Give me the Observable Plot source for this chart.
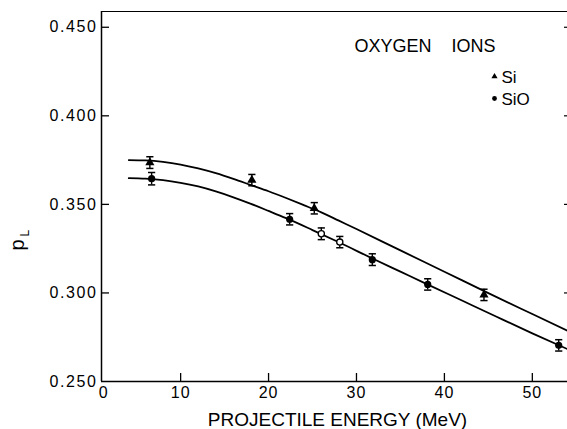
<!DOCTYPE html>
<html><head><meta charset="utf-8">
<script src="https://cdn.jsdelivr.net/npm/d3@7"></script>
<script src="https://cdn.jsdelivr.net/npm/@observablehq/plot@0.6"></script>
<style>
html,body{margin:0;padding:0;background:#fff;overflow:hidden}
#chart svg{display:block}
g[aria-label="y-axis tick label"] text{letter-spacing:1.6px}
g[aria-label="x-axis tick label"] text{letter-spacing:1px}
g[aria-label="x-title"] text{letter-spacing:2.3px}
g[aria-label="panel-title"] text{letter-spacing:0.6px}
g[aria-label="legend-text"] text{letter-spacing:0.8px}
</style></head><body><div id="chart"></div>
<script>
// axis setup
const xDomain = [1.0, 54.0];
const yDomain = [0.250, 0.4589];
const xTicks = [10, 20, 30, 40, 50];
const xZeroTick = [0];
const yTicks = [0.250, 0.300, 0.350, 0.400, 0.450];
const yInnerTicks = [0.300, 0.350, 0.400, 0.450];
const xTitle = "PROJECTILE ENERGY (MeV)";
const yTitle = "p";
const yTitleSub = "L";
const panelTitle = "OXYGEN\u00a0\u00a0\u00a0\u00a0IONS";
const legendLabels = ["Si", "SiO"];

// fitted curves
const siCurveX = [4.1, 6, 8, 10, 12, 14, 16, 18, 20, 22, 24, 26, 28, 30, 35, 40, 45, 50, 54];
const siCurveY = [0.3750, 0.3748, 0.3740, 0.3725, 0.3703, 0.3676, 0.3644, 0.3609, 0.3574, 0.3536, 0.3496, 0.3455, 0.3408, 0.3361, 0.3240, 0.3120, 0.2999, 0.2881, 0.2787];
const sioCurveX = [4.1, 6, 8, 10, 12, 14, 16, 18, 20, 22, 25, 28, 32, 35, 38, 42, 46, 50, 54];
const sioCurveY = [0.3648, 0.3645, 0.3637, 0.3622, 0.3601, 0.3573, 0.3540, 0.3503, 0.3463, 0.3422, 0.3355, 0.3286, 0.3190, 0.3120, 0.3050, 0.2957, 0.2864, 0.2772, 0.2683];

// measured points
const siX = [6.5, 18.1, 25.2, 44.5];
const siY = [0.3736, 0.3637, 0.3478, 0.2989];
const siErr = [0.0033, 0.0032, 0.0032, 0.0032];
const sioX = [6.7, 22.4, 31.8, 38.1, 53.0];
const sioY = [0.3645, 0.3416, 0.3188, 0.3048, 0.2704];
const sioErr = [0.0035, 0.0032, 0.0033, 0.0032, 0.0032];
const sioOpenX = [26.0, 28.1];
const sioOpenY = [0.3334, 0.3287];
const sioOpenErr = [0.0033, 0.0032];

const toPts = (xs, ys, es) => xs.map((x, i) => ({x, y: ys[i], err: es ? es[i] : 0}));
const siCurve = toPts(siCurveX, siCurveY);
const sioCurve = toPts(sioCurveX, sioCurveY);
const si = toPts(siX, siY, siErr);
const sio = toPts(sioX, sioY, sioErr);
const sioOpen = toPts(sioOpenX, sioOpenY, sioOpenErr);
const allPts = [...si, ...sio, ...sioOpen];

const cap = {draw(ctx) { ctx.moveTo(-3.6, 0); ctx.lineTo(3.6, 0); }};
const blank = () => "";

const ML = 101, MT = 11, W = 567, H = 429, MB = 48;

const chart = Plot.plot({
  width: W, height: H,
  marginLeft: ML, marginRight: 0, marginTop: MT, marginBottom: MB,
  style: {fontFamily: "'Liberation Sans', Arial, sans-serif", fontSize: "15px", color: "black", background: "white"},
  x: {domain: xDomain, label: null},
  y: {domain: yDomain, label: null},
  marks: [
    // frame (top, left, bottom)
    Plot.ruleY([yDomain[1]], {strokeWidth: 1.2}),
    Plot.ruleX([xDomain[0]], {strokeWidth: 1.5}),
    Plot.ruleY([yDomain[0]], {strokeWidth: 1.5}),
    // inward ticks
    Plot.axisX(xTicks, {tickSize: 8, dy: -8, tickFormat: blank, strokeWidth: 1.3}),
    Plot.axisY(yInnerTicks, {tickSize: 8, dx: 8, tickFormat: blank, strokeWidth: 1.3}),
    Plot.axisY(yInnerTicks, {anchor: "right", tickSize: 4, dx: -4, tickFormat: blank, strokeWidth: 1.2}),
    // tick labels
    Plot.axisX(xTicks, {tickSize: 0, tickPadding: 5, fontSize: 16}),
    Plot.axisX(xZeroTick, {tickSize: 0, tickPadding: 5, fontSize: 16, dx: 11}),
    Plot.axisY(yTicks, {tickSize: 0, tickPadding: 4, fontSize: 16, tickFormat: d3.format(".3f")}),
    // curves
    Plot.line(siCurve, {x: "x", y: "y", curve: "monotone-x", strokeWidth: 1.8}),
    Plot.line(sioCurve, {x: "x", y: "y", curve: "monotone-x", strokeWidth: 1.8}),
    // error bars
    Plot.ruleX(allPts, {x: "x", y1: d => d.y - d.err, y2: d => d.y + d.err, strokeWidth: 1.4}),
    Plot.dot(allPts, {x: "x", y: d => d.y + d.err, symbol: cap, r: 3, stroke: "black", fill: "none", strokeWidth: 1.5}),
    Plot.dot(allPts, {x: "x", y: d => d.y - d.err, symbol: cap, r: 3, stroke: "black", fill: "none", strokeWidth: 1.5}),
    // markers
    Plot.dot(si, {x: "x", y: "y", symbol: "triangle", r: 3.4, fill: "black", stroke: "none"}),
    Plot.dot(sio, {x: "x", y: "y", symbol: "circle", r: 3.6, fill: "black", stroke: "none"}),
    Plot.dot(sioOpen, {x: "x", y: "y", symbol: "circle", r: 3.1, fill: "white", stroke: "black", strokeWidth: 1.3}),
    // panel title and legend
    Plot.text([panelTitle], {text: d => d, frameAnchor: "top-left", dx: 354 - ML, dy: 45.5 - MT, textAnchor: "start", lineAnchor: "middle", fontSize: 18, ariaLabel: "panel-title"}),
    Plot.dot([legendLabels[0]], {frameAnchor: "top-left", dx: 494 - ML, dy: 76 - MT, symbol: "triangle", r: 2.3, fill: "black", stroke: "none"}),
    Plot.dot([legendLabels[1]], {frameAnchor: "top-left", dx: 494 - ML, dy: 98 - MT, symbol: "circle", r: 2.4, fill: "black", stroke: "none"}),
    Plot.text([legendLabels[0]], {text: d => d, frameAnchor: "top-left", dx: 501 - ML, dy: 77 - MT, textAnchor: "start", lineAnchor: "middle", fontSize: 17, ariaLabel: "legend-text"}),
    Plot.text([legendLabels[1]], {text: d => d, frameAnchor: "top-left", dx: 501 - ML, dy: 99 - MT, textAnchor: "start", lineAnchor: "middle", fontSize: 17, ariaLabel: "legend-text"}),
    // axis titles
    Plot.text([xTitle], {text: d => d, frameAnchor: "bottom", dx: 3, dy: 419 - (H - MB), lineAnchor: "middle", fontSize: 19, ariaLabel: "x-title"}),
    Plot.text([yTitle], {text: d => d, frameAnchor: "left", dx: 17 - ML, dy: 250 - (MT + H - MB) / 2, rotate: -90, lineAnchor: "middle", fontSize: 20}),
    Plot.text([yTitleSub], {text: d => d, frameAnchor: "left", dx: 25 - ML, dy: 236 - (MT + H - MB) / 2, rotate: -90, lineAnchor: "middle", fontSize: 12})
  ]
});
document.getElementById("chart").appendChild(chart);
</script>
</body></html>
